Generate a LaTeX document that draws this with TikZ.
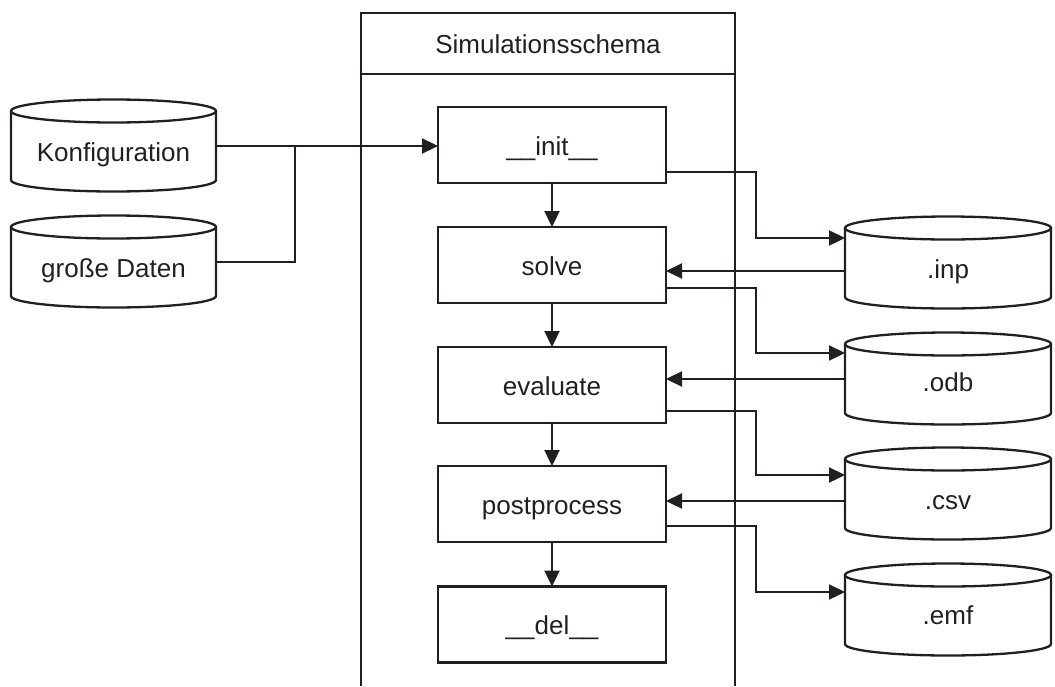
\documentclass[tikz,border=0pt]{standalone}
\usepackage{fontspec}
\setmainfont{Liberation Sans}
\usetikzlibrary{arrows.meta}
\definecolor{ink}{HTML}{231F20}

% database cylinder: name, left x, right x, top-ellipse centre y, text y, text
\newcommand\dbcyl[6]{%
  \node[cyltext, minimum width={(#3-#2)*1pt}] (#1) at ({(#2+#3)/2},#5) {#6};
  \draw[line] (#2,#4) -- (#2,#4+69)
    arc[start angle=180, end angle=0, x radius={(#3-#2)/2}, y radius=11.5] -- (#3,#4);
  \draw[line] ({(#2+#3)/2},#4) ellipse[x radius={(#3-#2)/2}, y radius=11.5];
}

\begin{document}
\begin{tikzpicture}[x=1pt, y=-1pt,
  line/.style={draw=ink, line width=2.3pt},
  arr/.style={line, -{Triangle[length=16pt, width=15pt]}},
  txt/.style={text=ink, font=\fontsize{26}{30}\selectfont, text height=22pt, text depth=1.4pt},
  box/.style={line, txt, minimum width=228pt, minimum height=76pt, inner sep=0pt, outer sep=0pt},
  cyltext/.style={txt, minimum height=40pt, inner sep=0pt, outer sep=0pt},
]
\useasboundingbox (0,0) rectangle (1055,686);

% frame of the simulation scheme
\node[line, txt, minimum width=374pt, minimum height=61pt, inner sep=0pt, outer sep=0pt]
  (hdr) at (548,43.5) {Simulationsschema};
\draw[line] (hdr.south west) -- (hdr.south west |- 0,686);
\draw[line] (hdr.south east) -- (hdr.south east |- 0,686);

% method boxes
\node[box] (init)  at (552,145)   {\_\_init\_\_};
\node[box] (solve) at (552,265)   {solve};
\node[box] (eval)  at (552,385)   {evaluate};
\node[box] (post)  at (552,504)   {postprocess};
\node[box] (del)   at (552,624.5) {\_\_del\_\_};

\draw[arr] (init) -- (solve);
\draw[arr] (solve) -- (eval);
\draw[arr] (eval) -- (post);
\draw[arr] (post) -- (del);

% input data
\dbcyl{konf}{11}{216}{111}{151.5}{Konfiguration}
\dbcyl{daten}{11}{216}{227}{267}{große Daten}

% files
\dbcyl{inp}{845}{1051}{228}{267.7}{.inp}
\dbcyl{odb}{845}{1051}{344}{381.4}{.odb}
\dbcyl{csv}{845}{1051}{459}{498.7}{.csv}
\dbcyl{emf}{845}{1051}{575}{613.7}{.emf}

% inputs into __init__
\coordinate (kout) at ([yshift=5.5pt]konf.east);
\coordinate (jn) at (295,0);
\draw[arr] (kout) -- (kout -| init.west);
\draw[line] ([yshift=5pt]daten.east) -| (jn |- kout);

% file connectors
\coordinate (elb) at (756,0);
\coordinate (inpin)  at ([yshift=29.7pt]inp.west);
\coordinate (inpout) at ([yshift=-3.3pt]inp.west);
\coordinate (odbin)  at ([yshift=28.4pt]odb.west);
\coordinate (odbout) at ([yshift=2.4pt]odb.west);
\coordinate (csvin)  at ([yshift=23.7pt]csv.west);
\coordinate (csvout) at ([yshift=-2.3pt]csv.west);
\coordinate (emfin)  at ([yshift=21.7pt]emf.west);

\draw[arr] ([yshift=-27pt]init.east) -| (elb |- inpin) -- (inpin);
\draw[arr] (inpout) -- (inpout -| solve.east);
\draw[arr] ([yshift=-23pt]solve.east) -| (elb |- odbin) -- (odbin);
\draw[arr] (odbout) -- (odbout -| eval.east);
\draw[arr] ([yshift=-26pt]eval.east) -| (elb |- csvin) -- (csvin);
\draw[arr] (csvout) -- (csvout -| post.east);
\draw[arr] ([yshift=-22pt]post.east) -| (elb |- emfin) -- (emfin);
\end{tikzpicture}
\end{document}
